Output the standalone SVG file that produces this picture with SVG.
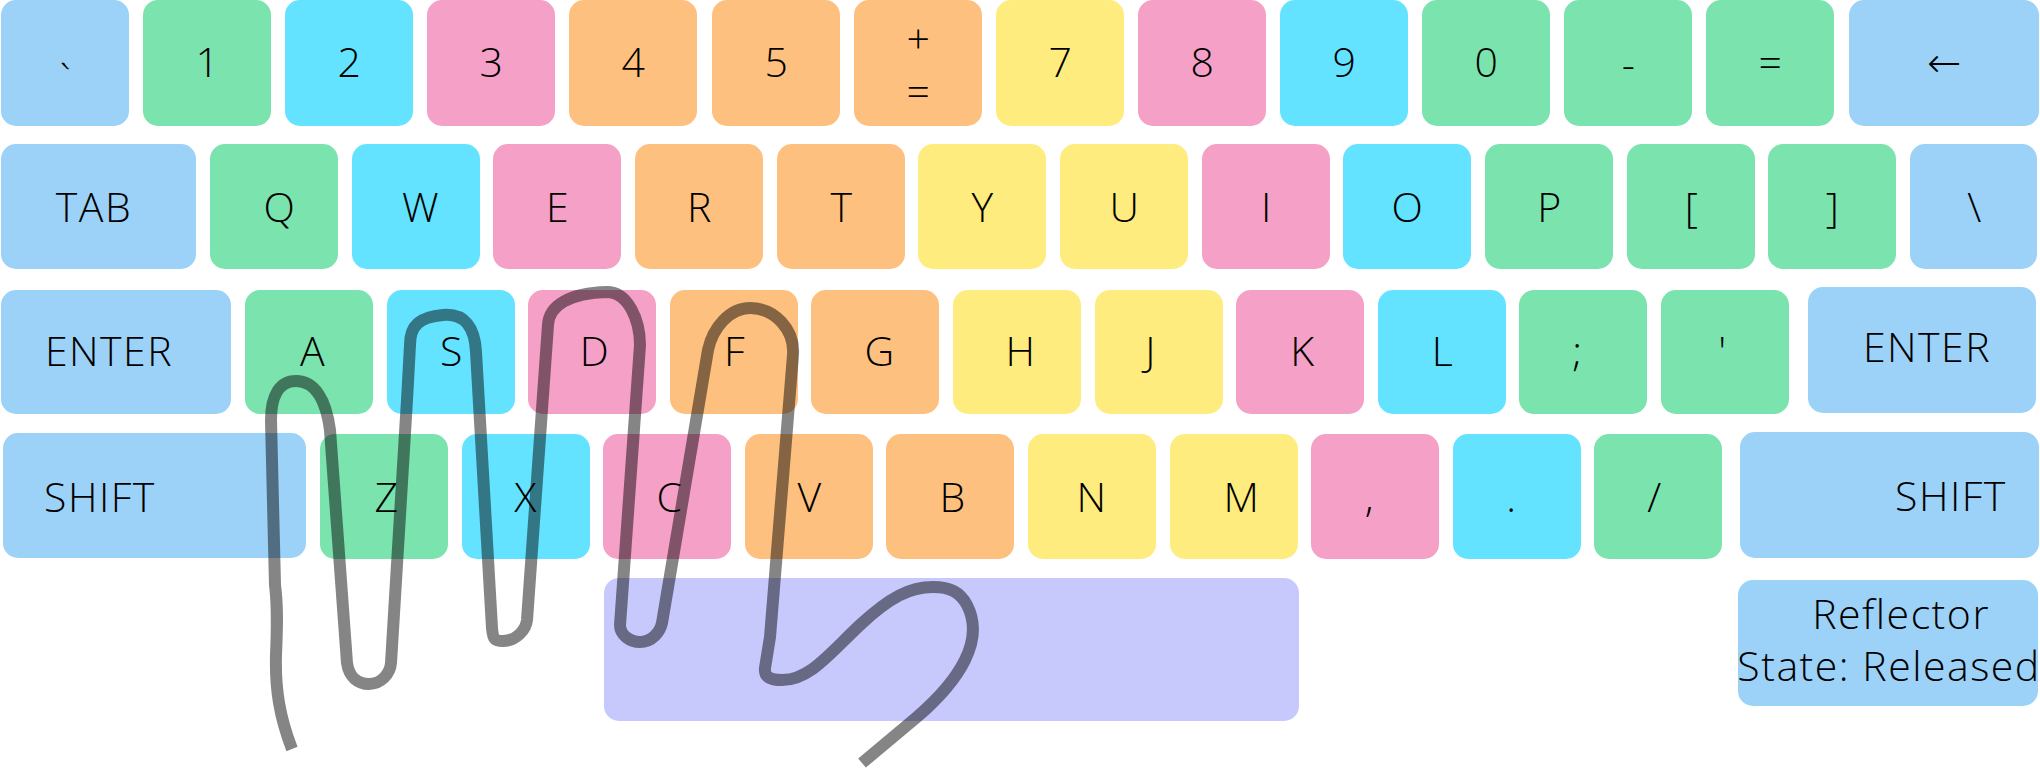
<svg xmlns="http://www.w3.org/2000/svg" width="2040" height="769" viewBox="0 0 2040 769">
<style>
.b{fill:#9cd2f8}.g{fill:#7be3ae}.c{fill:#63e3ff}.p{fill:#f5a0c7}.o{fill:#fec07f}.y{fill:#ffec7f}.s{fill:#c7c9fd}
text{font-family:"Open Sans","Noto Sans","DejaVu Sans",sans-serif;font-size:41px;font-weight:300;letter-spacing:1.5px;fill:#000;text-anchor:middle}
.hand{fill:none;stroke:#000;stroke-opacity:.48;stroke-width:12;stroke-linejoin:round;stroke-linecap:butt}
</style>
<rect width="2040" height="769" fill="#fff"/>
<g id="row1">
<g id="k-grave"><rect class="b" x="1" y="0" width="128" height="126" rx="15"/><text x="66" y="94">`</text></g>
<g id="k-1"><rect class="g" x="143" y="0" width="128" height="126" rx="15"/><text x="208" y="77">1</text></g>
<g id="k-2"><rect class="c" x="285" y="0" width="128" height="126" rx="15"/><text x="350" y="77">2</text></g>
<g id="k-3"><rect class="p" x="427" y="0" width="128" height="126" rx="15"/><text x="492" y="77">3</text></g>
<g id="k-4"><rect class="o" x="569" y="0" width="128" height="126" rx="15"/><text x="634" y="77">4</text></g>
<g id="k-5"><rect class="o" x="712" y="0" width="128" height="126" rx="15"/><text x="777" y="77">5</text></g>
<g id="k-6"><rect class="o" x="854" y="0" width="128" height="126" rx="15"/><text x="919" y="53">+</text><text x="919" y="106">=</text></g>
<g id="k-7"><rect class="y" x="996" y="0" width="128" height="126" rx="15"/><text x="1061" y="77">7</text></g>
<g id="k-8"><rect class="p" x="1138" y="0" width="128" height="126" rx="15"/><text x="1203" y="77">8</text></g>
<g id="k-9"><rect class="c" x="1280" y="0" width="128" height="126" rx="15"/><text x="1345" y="77">9</text></g>
<g id="k-0"><rect class="g" x="1422" y="0" width="128" height="126" rx="15"/><text x="1487" y="77">0</text></g>
<g id="k-minus"><rect class="g" x="1564" y="0" width="128" height="126" rx="15"/><text x="1629" y="79">-</text></g>
<g id="k-equal"><rect class="g" x="1706" y="0" width="128" height="126" rx="15"/><text x="1771" y="77">=</text></g>
<g id="k-back"><rect class="b" x="1849" y="0" width="190" height="126" rx="15"/><text x="1945" y="77">←</text></g>
</g>
<g id="row2">
<g id="k-tab"><rect class="b" x="1" y="144" width="195" height="125" rx="15"/><text x="94" y="222">TAB</text></g>
<g id="k-q"><rect class="g" x="210" y="144" width="128" height="125" rx="15"/><text x="280" y="222">Q</text></g>
<g id="k-w"><rect class="c" x="352" y="144" width="128" height="125" rx="15"/><text x="421" y="222">W</text></g>
<g id="k-e"><rect class="p" x="493" y="144" width="128" height="125" rx="15"/><text x="558" y="222">E</text></g>
<g id="k-r"><rect class="o" x="635" y="144" width="128" height="125" rx="15"/><text x="700" y="222">R</text></g>
<g id="k-t"><rect class="o" x="777" y="144" width="128" height="125" rx="15"/><text x="842" y="222">T</text></g>
<g id="k-y"><rect class="y" x="918" y="144" width="128" height="125" rx="15"/><text x="983" y="222">Y</text></g>
<g id="k-u"><rect class="y" x="1060" y="144" width="128" height="125" rx="15"/><text x="1125" y="222">U</text></g>
<g id="k-i"><rect class="p" x="1202" y="144" width="128" height="125" rx="15"/><text x="1267" y="222">I</text></g>
<g id="k-o"><rect class="c" x="1343" y="144" width="128" height="125" rx="15"/><text x="1408" y="222">O</text></g>
<g id="k-p"><rect class="g" x="1485" y="144" width="128" height="125" rx="15"/><text x="1550" y="222">P</text></g>
<g id="k-lbr"><rect class="g" x="1627" y="144" width="128" height="125" rx="15"/><text x="1692" y="222">[</text></g>
<g id="k-rbr"><rect class="g" x="1768" y="144" width="128" height="125" rx="15"/><text x="1833" y="222">]</text></g>
<g id="k-bslash"><rect class="b" x="1910" y="144" width="127" height="125" rx="15"/><text x="1975" y="222">\</text></g>
</g>
<g id="row3">
<g id="k-enter-l"><rect class="b" x="1" y="290" width="230" height="124" rx="15"/><text x="109" y="366">ENTER</text></g>
<g id="k-a"><rect class="g" x="245" y="290" width="128" height="124" rx="15"/><text x="313" y="366">A</text></g>
<g id="k-s"><rect class="c" x="387" y="290" width="128" height="124" rx="15"/><text x="452" y="366">S</text></g>
<g id="k-d"><rect class="p" x="528" y="290" width="128" height="124" rx="15"/><text x="595" y="366">D</text></g>
<g id="k-f"><rect class="o" x="670" y="290" width="128" height="124" rx="15"/><text x="735" y="366">F</text></g>
<g id="k-g"><rect class="o" x="811" y="290" width="128" height="124" rx="15"/><text x="880" y="366">G</text></g>
<g id="k-h"><rect class="y" x="953" y="290" width="128" height="124" rx="15"/><text x="1021" y="366">H</text></g>
<g id="k-j"><rect class="y" x="1095" y="290" width="128" height="124" rx="15"/><text x="1151" y="366">J</text></g>
<g id="k-k"><rect class="p" x="1236" y="290" width="128" height="124" rx="15"/><text x="1303" y="366">K</text></g>
<g id="k-l"><rect class="c" x="1378" y="290" width="128" height="124" rx="15"/><text x="1443" y="366">L</text></g>
<g id="k-semi"><rect class="g" x="1519" y="290" width="128" height="124" rx="15"/><text x="1578" y="366">;</text></g>
<g id="k-quote"><rect class="g" x="1661" y="290" width="128" height="124" rx="15"/><text x="1723" y="366">'</text></g>
<g id="k-enter-r"><rect class="b" x="1808" y="287" width="228" height="126" rx="15"/><text x="1927" y="362">ENTER</text></g>
</g>
<g id="row4">
<g id="k-shift-l"><rect class="b" x="3" y="433" width="303" height="125" rx="15"/><text x="100" y="512">SHIFT</text></g>
<g id="k-z"><rect class="g" x="320" y="434" width="128" height="125" rx="15"/><text x="387" y="512">Z</text></g>
<g id="k-x"><rect class="c" x="462" y="434" width="128" height="125" rx="15"/><text x="526" y="512">X</text></g>
<g id="k-c"><rect class="p" x="603" y="434" width="128" height="125" rx="15"/><text x="670" y="512">C</text></g>
<g id="k-v"><rect class="o" x="745" y="434" width="128" height="125" rx="15"/><text x="810" y="512">V</text></g>
<g id="k-b"><rect class="o" x="886" y="434" width="128" height="125" rx="15"/><text x="953" y="512">B</text></g>
<g id="k-n"><rect class="y" x="1028" y="434" width="128" height="125" rx="15"/><text x="1092" y="512">N</text></g>
<g id="k-m"><rect class="y" x="1170" y="434" width="128" height="125" rx="15"/><text x="1242" y="512">M</text></g>
<g id="k-comma"><rect class="p" x="1311" y="434" width="128" height="125" rx="15"/><text x="1370" y="512">,</text></g>
<g id="k-period"><rect class="c" x="1453" y="434" width="128" height="125" rx="15"/><text x="1512" y="512">.</text></g>
<g id="k-slash"><rect class="g" x="1594" y="434" width="128" height="125" rx="15"/><text x="1655" y="512">/</text></g>
<g id="k-shift-r"><rect class="b" x="1740" y="432" width="299" height="126" rx="15"/><text x="1951" y="511">SHIFT</text></g>
</g>
<g id="row5">
<g id="k-space"><rect class="s" x="604" y="578" width="695" height="143" rx="15"/></g>
<g id="k-reflector"><rect class="b" x="1738" y="580" width="300" height="126" rx="15"/><text x="1901" y="629">Reflector</text><text x="1889" y="681">State: Released</text></g>
</g>
<g id="connectors">
<path class="hand" d="M 292,749 C 280,718 275,690 276,655 C 277,630 278,608 275,585 L 271,420 C 271,395 280,381 296,381 C 315,381 326,400 330,430 L 347,663 C 349,677 358,684 369,684 C 381,684 390,674 391,663 L 407,400 L 410,345 C 410,325 420,317 443,315 C 465,313 475,328 476,352 L 492,628 C 493,640 495,641 503,641 C 516,641 526,630 527,620 L 548,325 C 549,305 570,293 607,292 C 628,292 640,320 640,345 L 620,625 C 620,635 630,642 640,642 C 652,642 660,632 662,623 L 708,350 C 713,327 730,308 750,308 C 775,308 795,330 793,355 L 770,637 L 765,668 C 764,677 770,680 782,680 C 810,680 830,653 860,625 C 890,597 910,587 933,587 C 950,587 960,592 967,605 C 985,640 960,680 917,717 L 862,763"/>
</g>
</svg>
